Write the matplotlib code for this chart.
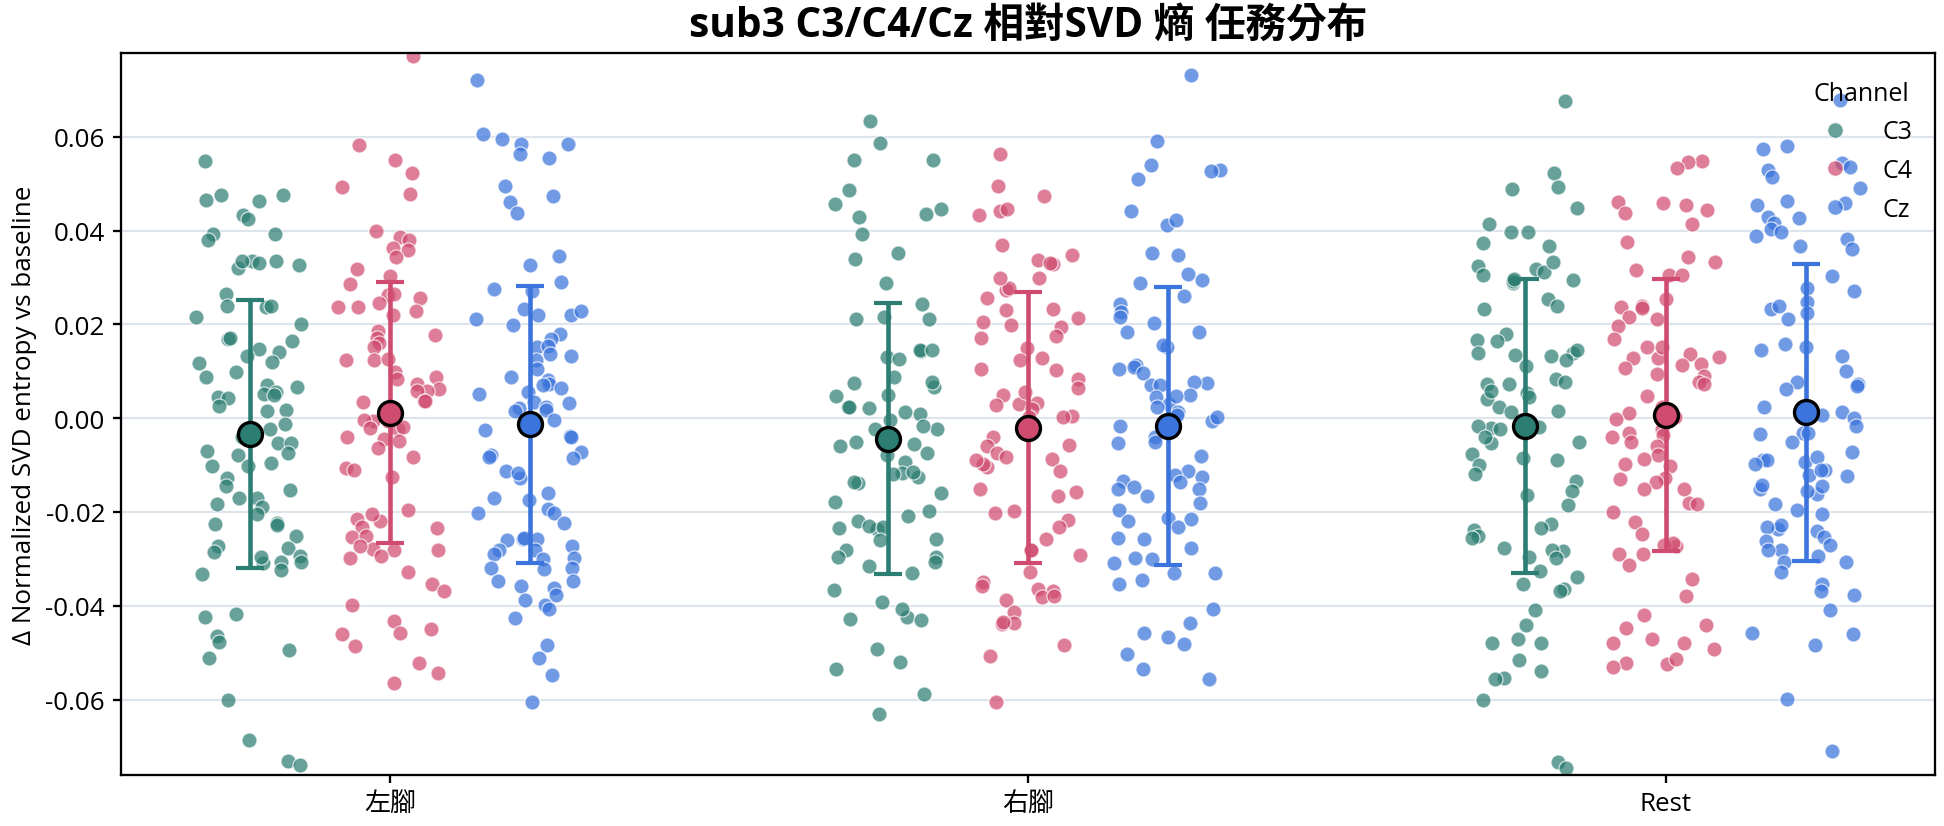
import numpy as np
import matplotlib
matplotlib.use("Agg")
import matplotlib.pyplot as plt
from matplotlib.lines import Line2D

plt.rcParams['font.family'] = ['Open Sans', 'Noto Sans CJK TC', 'DejaVu Sans']
plt.rcParams['axes.unicode_minus'] = False

# ---------------- data ----------------
categories = ['左腳', '右腳', 'Rest']
channels = ['C3', 'C4', 'Cz']

C3_L = [0.0549, 0.0477, 0.0477, 0.0464, 0.0466, 0.0434, 0.0424, 0.0394, 0.0394, 0.0380, 0.0320, 0.0335, 0.0335, 0.0332, 0.0336, 0.0326, 0.0264, 0.0237, 0.0239, 0.0239, 0.0217, 0.0202, 0.0169, 0.0172, 0.0165, 0.0148, 0.0132, 0.0141, 0.0117, 0.0120, 0.0098, 0.0089, 0.0071, 0.0066, 0.0046, 0.0051, 0.0044, 0.0055, 0.0049, 0.0027, 0.0017, 0.0015, -0.0023, -0.0012, -0.0039, -0.0053, -0.0053, -0.0070, -0.0075, -0.0079, -0.0101, -0.0101, -0.0095, -0.0128, -0.0154, -0.0145, -0.0170, -0.0171, -0.0189, -0.0184, -0.0225, -0.0223, -0.0227, -0.0204, -0.0252, -0.0272, -0.0276, -0.0285, -0.0293, -0.0309, -0.0297, -0.0306, -0.0306, -0.0324, -0.0332, -0.0418, -0.0423, -0.0465, -0.0478, -0.0494, -0.0511, -0.0601, -0.0686, -0.0731, -0.0740]
C4_L = [0.0772, 0.0582, 0.0550, 0.0524, 0.0493, 0.0479, 0.0399, 0.0387, 0.0381, 0.0358, 0.0364, 0.0345, 0.0319, 0.0304, 0.0286, 0.0262, 0.0266, 0.0257, 0.0246, 0.0237, 0.0221, 0.0237, 0.0228, 0.0186, 0.0172, 0.0178, 0.0161, 0.0151, 0.0125, 0.0127, 0.0125, 0.0098, 0.0089, 0.0084, 0.0072, 0.0062, 0.0059, 0.0059, 0.0037, 0.0037, 0.0035, -0.0006, -0.0006, -0.0003, -0.0023, -0.0021, -0.0019, -0.0048, -0.0039, -0.0045, -0.0064, -0.0082, -0.0107, -0.0110, -0.0125, -0.0220, -0.0196, -0.0205, -0.0214, -0.0234, -0.0232, -0.0254, -0.0252, -0.0279, -0.0272, -0.0281, -0.0281, -0.0299, -0.0294, -0.0328, -0.0354, -0.0368, -0.0398, -0.0432, -0.0450, -0.0460, -0.0458, -0.0485, -0.0523, -0.0544, -0.0565]
Cz_L = [0.0722, 0.0607, 0.0585, 0.0585, 0.0596, 0.0555, 0.0564, 0.0495, 0.0475, 0.0462, 0.0437, 0.0347, 0.0327, 0.0290, 0.0272, 0.0275, 0.0232, 0.0221, 0.0221, 0.0228, 0.0211, 0.0198, 0.0179, 0.0170, 0.0152, 0.0154, 0.0133, 0.0138, 0.0125, 0.0105, 0.0082, 0.0087, 0.0072, 0.0071, 0.0065, 0.0055, 0.0051, 0.0035, 0.0032, 0.0024, 0.0017, 0.0021, 0.0015, -0.0003, -0.0025, -0.0037, -0.0039, -0.0073, -0.0079, -0.0082, -0.0084, -0.0128, -0.0113, -0.0117, -0.0160, -0.0171, -0.0175, -0.0193, -0.0202, -0.0202, -0.0223, -0.0257, -0.0256, -0.0258, -0.0260, -0.0272, -0.0281, -0.0281, -0.0290, -0.0301, -0.0299, -0.0319, -0.0319, -0.0321, -0.0348, -0.0348, -0.0357, -0.0362, -0.0378, -0.0388, -0.0399, -0.0406, -0.0426, -0.0484, -0.0512, -0.0547, -0.0606]

C3_R = [0.0635, 0.0588, 0.0550, 0.0550, 0.0486, 0.0458, 0.0435, 0.0447, 0.0429, 0.0394, 0.0339, 0.0353, 0.0288, 0.0243, 0.0212, 0.0212, 0.0215, 0.0143, 0.0145, 0.0145, 0.0131, 0.0126, 0.0088, 0.0076, 0.0049, 0.0067, 0.0078, 0.0047, 0.0013, 0.0021, 0.0024, 0.0023, 0.0010, -0.0024, -0.0003, -0.0022, -0.0031, -0.0017, -0.0055, -0.0060, -0.0050, -0.0075, -0.0079, -0.0093, -0.0125, -0.0117, -0.0115, -0.0119, -0.0138, -0.0136, -0.0160, -0.0179, -0.0208, -0.0198, -0.0220, -0.0235, -0.0236, -0.0229, -0.0231, -0.0260, -0.0258, -0.0282, -0.0295, -0.0295, -0.0306, -0.0315, -0.0331, -0.0367, -0.0391, -0.0425, -0.0408, -0.0431, -0.0429, -0.0493, -0.0519, -0.0534, -0.0588, -0.0630]
C4_R = [0.0563, 0.0495, 0.0475, 0.0433, 0.0441, 0.0446, 0.0370, 0.0328, 0.0337, 0.0348, 0.0332, 0.0274, 0.0278, 0.0256, 0.0300, 0.0300, 0.0234, 0.0230, 0.0198, 0.0195, 0.0213, 0.0205, 0.0172, 0.0175, 0.0150, 0.0125, 0.0128, 0.0102, 0.0104, 0.0083, 0.0065, 0.0030, 0.0056, 0.0049, 0.0032, 0.0029, 0.0019, 0.0005, 0.0002, 0.0002, -0.0041, -0.0057, -0.0060, -0.0074, -0.0088, -0.0083, -0.0103, -0.0098, -0.0113, -0.0089, -0.0150, -0.0157, -0.0165, -0.0198, -0.0203, -0.0217, -0.0231, -0.0258, -0.0281, -0.0282, -0.0291, -0.0328, -0.0350, -0.0358, -0.0365, -0.0369, -0.0382, -0.0380, -0.0387, -0.0413, -0.0439, -0.0437, -0.0435, -0.0484, -0.0508, -0.0605]
Cz_R = [0.0732, 0.0592, 0.0540, 0.0529, 0.0528, 0.0511, 0.0441, 0.0413, 0.0422, 0.0353, 0.0349, 0.0308, 0.0294, 0.0288, 0.0261, 0.0244, 0.0226, 0.0215, 0.0185, 0.0183, 0.0203, 0.0152, 0.0157, 0.0113, 0.0104, 0.0110, 0.0075, 0.0070, 0.0070, 0.0096, 0.0078, 0.0049, 0.0045, 0.0030, 0.0023, 0.0047, 0.0014, 0.0007, -0.0005, 0.0002, -0.0017, -0.0039, -0.0053, -0.0050, -0.0081, -0.0112, -0.0122, -0.0133, -0.0125, -0.0136, -0.0165, -0.0152, -0.0152, -0.0146, -0.0181, -0.0196, -0.0220, -0.0212, -0.0214, -0.0231, -0.0256, -0.0258, -0.0277, -0.0300, -0.0298, -0.0308, -0.0346, -0.0331, -0.0353, -0.0330, -0.0408, -0.0437, -0.0458, -0.0482, -0.0504, -0.0466, -0.0534, -0.0557]

C3_Rest = [0.0677, 0.0524, 0.0490, 0.0494, 0.0449, 0.0397, 0.0397, 0.0415, 0.0373, 0.0367, 0.0324, 0.0319, 0.0305, 0.0312, 0.0333, 0.0294, 0.0288, 0.0292, 0.0298, 0.0255, 0.0239, 0.0232, 0.0179, 0.0167, 0.0164, 0.0133, 0.0140, 0.0146, 0.0140, 0.0134, 0.0124, 0.0112, 0.0072, 0.0083, 0.0078, 0.0073, 0.0053, 0.0040, 0.0058, 0.0045, 0.0024, 0.0015, 0.0014, -0.0021, -0.0019, -0.0023, -0.0016, -0.0050, -0.0052, -0.0040, -0.0084, -0.0077, -0.0089, -0.0100, -0.0118, -0.0133, -0.0164, -0.0156, -0.0185, -0.0226, -0.0238, -0.0234, -0.0251, -0.0255, -0.0284, -0.0277, -0.0282, -0.0297, -0.0299, -0.0325, -0.0338, -0.0354, -0.0364, -0.0369, -0.0409, -0.0442, -0.0471, -0.0480, -0.0480, -0.0515, -0.0540, -0.0555, -0.0557, -0.0601, -0.0733, -0.0746]
C4_Rest = [0.0549, 0.0547, 0.0533, 0.0462, 0.0445, 0.0459, 0.0455, 0.0437, 0.0414, 0.0375, 0.0334, 0.0343, 0.0305, 0.0305, 0.0317, 0.0255, 0.0237, 0.0240, 0.0236, 0.0217, 0.0211, 0.0196, 0.0170, 0.0151, 0.0130, 0.0138, 0.0129, 0.0129, 0.0107, 0.0095, 0.0114, 0.0116, 0.0151, 0.0090, 0.0078, 0.0073, 0.0048, 0.0023, 0.0011, 0.0003, -0.0002, -0.0023, -0.0031, -0.0036, -0.0050, -0.0040, -0.0060, -0.0079, -0.0101, -0.0098, -0.0127, -0.0087, -0.0129, -0.0137, -0.0152, -0.0152, -0.0180, -0.0183, -0.0199, -0.0221, -0.0248, -0.0272, -0.0270, -0.0267, -0.0290, -0.0290, -0.0313, -0.0344, -0.0380, -0.0420, -0.0441, -0.0447, -0.0480, -0.0472, -0.0480, -0.0492, -0.0525, -0.0523, -0.0514, -0.0530]
Cz_Rest = [0.0679, 0.0580, 0.0575, 0.0530, 0.0545, 0.0536, 0.0515, 0.0491, 0.0460, 0.0464, 0.0455, 0.0430, 0.0428, 0.0417, 0.0404, 0.0398, 0.0383, 0.0389, 0.0361, 0.0368, 0.0304, 0.0277, 0.0272, 0.0233, 0.0239, 0.0247, 0.0224, 0.0211, 0.0158, 0.0145, 0.0153, 0.0132, 0.0100, 0.0077, 0.0074, 0.0069, 0.0063, 0.0024, 0.0013, 0.0001, 0.0006, -0.0016, -0.0031, -0.0031, -0.0034, -0.0050, -0.0071, -0.0089, -0.0089, -0.0098, -0.0094, -0.0082, -0.0122, -0.0123, -0.0110, -0.0110, -0.0161, -0.0156, -0.0152, -0.0142, -0.0144, -0.0182, -0.0196, -0.0205, -0.0241, -0.0237, -0.0227, -0.0232, -0.0253, -0.0270, -0.0261, -0.0282, -0.0282, -0.0294, -0.0306, -0.0306, -0.0328, -0.0353, -0.0369, -0.0378, -0.0410, -0.0460, -0.0484, -0.0458, -0.0598, -0.0710]

# mean and SD per channel, in category order
C3_mean = [-0.0033, -0.0044, -0.0017]
C4_mean = [0.0012, -0.0020, 0.0006]
Cz_mean = [-0.0013, -0.0017, 0.0013]
C3_sd = [0.0286, 0.0289, 0.0314]
C4_sd = [0.0278, 0.0289, 0.0290]
Cz_sd = [0.0296, 0.0297, 0.0317]

values = {
    'C3': [C3_L, C3_R, C3_Rest],
    'C4': [C4_L, C4_R, C4_Rest],
    'Cz': [Cz_L, Cz_R, Cz_Rest],
}
means = {'C3': C3_mean, 'C4': C4_mean, 'Cz': Cz_mean}
sds = {'C3': C3_sd, 'C4': C4_sd, 'Cz': Cz_sd}

# ---------------- style ----------------
colors = {'C3': '#2c7d72', 'C4': '#d04b70', 'Cz': '#3a74dc'}
offsets = {'C3': -0.22, 'C4': 0.0, 'Cz': 0.22}
jitter_half = 0.085
rng = np.random.default_rng(3)

fig = plt.figure(figsize=(12.96, 5.513), dpi=150)
ax = fig.add_axes([0.0621, 0.0617, 0.9333, 0.8730])

for ci, cat in enumerate(categories):
    for ch in channels:
        y = np.asarray(values[ch][ci])
        x = ci + offsets[ch] + rng.uniform(-jitter_half, jitter_half, len(y))
        ax.scatter(x, y, s=52, color=colors[ch], alpha=0.72,
                   edgecolors='white', linewidths=0.6, zorder=2)

for ch in channels:
    xs = np.arange(len(categories)) + offsets[ch]
    ax.errorbar(xs, means[ch], yerr=sds[ch], fmt='none', ecolor=colors[ch],
                elinewidth=2.2, capsize=6.5, capthick=2.0, zorder=4)
    ax.plot(xs, means[ch], ls='none', marker='o', markersize=11.5,
            markerfacecolor=colors[ch], markeredgecolor='black',
            markeredgewidth=1.6, zorder=5)

ax.set_xlim(-0.4225, 2.4225)
ax.set_ylim(-0.0761, 0.0779)
ax.set_xticks(range(len(categories)))
ax.set_xticklabels(categories)
ax.set_yticks([-0.06, -0.04, -0.02, 0.0, 0.02, 0.04, 0.06])
ax.yaxis.set_major_formatter(matplotlib.ticker.FormatStrFormatter('%.2f'))
ax.tick_params(axis='both', labelsize=12.5, length=4, width=1.1, colors='black')
ax.yaxis.grid(True, color='#dde4ec', lw=1.0)
ax.set_axisbelow(True)
for sp in ax.spines.values():
    sp.set_linewidth(1.1)
    sp.set_color('black')

ax.set_ylabel('Δ Normalized SVD entropy vs baseline', fontsize=12.5)
ax.set_title('sub3 C3/C4/Cz 相對SVD 熵 任務分布', fontsize=19.5, fontweight='bold', pad=8)

handles = [Line2D([], [], ls='', marker='o', markersize=7.5, color=colors[ch], alpha=0.72,
                  markeredgecolor='white', markeredgewidth=0.6) for ch in channels]
ax.legend(handles, channels, title='Channel', loc='upper right', frameon=False,
          bbox_to_anchor=(1.0, 0.993), labelspacing=0.55,
          fontsize=12, title_fontsize=12, handletextpad=0.9)

fig.savefig('out.png', dpi=150)
